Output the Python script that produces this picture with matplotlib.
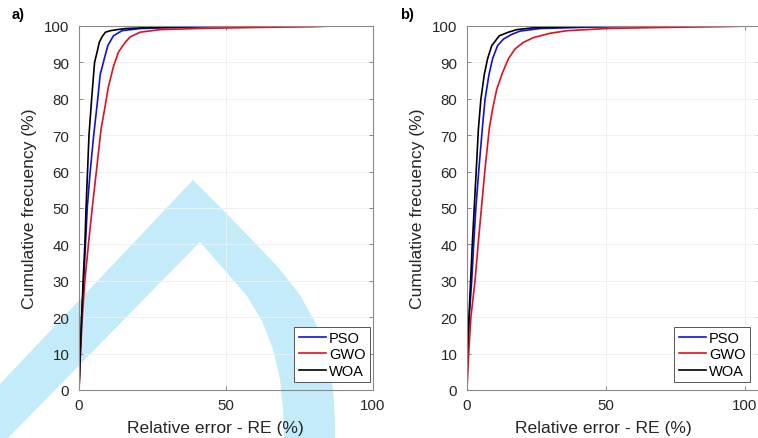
import matplotlib
matplotlib.use("Agg")
import matplotlib.pyplot as plt
from matplotlib.patches import Polygon

plt.rcParams["font.family"] = ["Liberation Sans", "DejaVu Sans"]

# a) cumulative frequency (%) vs relative error RE (%)
pso_a_re = [0, 0.4, 0.9, 1.6, 2.2, 2.8, 3.8, 5.0, 6.3, 7.2, 8.6, 9.8, 11.7, 14.6, 20.8, 35, 56]
pso_a_cf = [0, 10, 20, 30, 40, 50, 60, 70, 79.4, 86.6, 91, 94.6, 97.3, 98.7, 99.3, 99.6, 100]
gwo_a_re = [0, 0.5, 1.1, 2.0, 3.2, 4.5, 5.9, 7.5, 8.6, 10, 11.7, 13.4, 15.7, 17.4, 20.8, 27.6, 40, 60, 80, 86]
gwo_a_cf = [0, 10, 20, 30, 40, 50, 60, 71.7, 76.6, 83.3, 88.8, 92.8, 95.5, 97, 98.3, 99, 99.3, 99.6, 99.8, 100]
woa_a_re = [0, 0.4, 0.9, 1.4, 2.0, 2.4, 2.9, 3.4, 4.3, 4.9, 5.3, 6.2, 6.9, 7.8, 9.0, 10.6, 12.9, 16, 25, 35, 41]
woa_a_cf = [0, 10, 20, 30, 40, 50, 60, 70, 80, 86, 90, 93, 95.5, 97, 98.3, 98.7, 99, 99.3, 99.6, 99.8, 100]

# b)
pso_b_re = [0, 0.2, 0.8, 1.7, 2.4, 3.2, 4.2, 5.5, 6.5, 7.9, 9.2, 11, 13.1, 16.1, 19.1, 26.3, 45, 70]
pso_b_cf = [0, 10, 20, 30, 40, 50, 60, 71.7, 79.9, 86.6, 91, 94.6, 96.4, 97.7, 98.6, 99.3, 99.7, 100]
gwo_b_re = [0, 0.6, 1.4, 2.9, 4.0, 5.2, 6.4, 8.0, 9.2, 10.7, 12.8, 14.9, 17.3, 20.3, 23.9, 29.9, 35.9, 50, 70, 90, 103]
gwo_b_cf = [0, 10, 20, 30, 40, 50, 60, 71.7, 77.2, 82.6, 87.2, 91, 93.7, 95.5, 96.8, 98, 98.7, 99.3, 99.6, 99.8, 100]
woa_b_re = [0, 0.1, 0.7, 1.3, 1.9, 2.6, 3.3, 4.1, 5.0, 6.2, 7.4, 8.9, 11.6, 14.9, 17.9, 23.8, 40, 56]
woa_b_cf = [0, 10, 20, 30, 40, 50, 60, 71.7, 79.9, 86.6, 91, 94.6, 97.3, 98.3, 99, 99.5, 99.8, 100]

labels = ["PSO", "GWO", "WOA"]
colors = ["#1010e0", "#e0101c", "#000000"]

W, H = 758, 439
fig = plt.figure(figsize=(W / 100, H / 100), dpi=100)

# light blue watermark (figure pixels, y from top)
wm = [(0, 385), (193, 181), (223, 211), (253, 242), (278, 268), (300, 296), (316, 325),
      (327, 357), (333, 390), (335, 420), (335, 439),
      (284, 439), (283, 410), (280, 380), (273, 350), (262, 322), (247, 297), (228, 275),
      (200, 243), (8, 439), (0, 439)]
fig.patches.append(Polygon([(x / W, 1 - y / H) for x, y in wm], closed=True,
                           transform=fig.transFigure, facecolor="#c4ebfa",
                           edgecolor="none", zorder=-5))

ax_w = 294 / W
ax_b = 1 - 391 / H
ax_h = 364 / H
axes = [fig.add_axes([79 / W, ax_b, ax_w, ax_h]),
        fig.add_axes([467 / W, ax_b, ax_w, ax_h])]
xmax = [100, 105.8]
data = [
    [(pso_a_re, pso_a_cf), (gwo_a_re, gwo_a_cf), (woa_a_re, woa_a_cf)],
    [(pso_b_re, pso_b_cf), (gwo_b_re, gwo_b_cf), (woa_b_re, woa_b_cf)],
]

for ax, series, xm in zip(axes, data, xmax):
    ax.set_facecolor("none")
    for (re_, cf), lab, c in zip(series, labels, colors):
        ax.plot(re_, cf, color=c, lw=1.2, label=lab)
    ax.set_xlim(0, xm)
    ax.set_ylim(0, 100)
    ax.set_xticks([0, 50, 100])
    ax.set_yticks(range(0, 101, 10))
    ax.grid(True, color="#efefef", lw=0.7)
    ax.set_axisbelow(True)
    for s in ax.spines.values():
        s.set_color("#8a8a8a")
        s.set_linewidth(0.8)
    ax.tick_params(direction="in", length=3, width=0.7, color="#8a8a8a",
                   labelsize=10.8, labelcolor="#262626", top=True, right=True)
    ax.tick_params(axis="y", pad=7)
    ax.tick_params(axis="x", pad=6)
    ax.set_xlabel("Relative error - RE (%)", fontsize=12.6, color="#262626")
    ax.set_ylabel("Cumulative frecuency (%)", fontsize=12.6, color="#262626")
    ax.xaxis.set_label_coords(0.463, -0.082)
    ax.yaxis.set_label_coords(-0.143, 0.5)

leg_x = [0.99, 0.963]
for ax, lx in zip(axes, leg_x):
    leg = ax.legend(loc="lower right", bbox_to_anchor=(lx, 0.022), borderaxespad=0,
                    fontsize=10.5, fancybox=False, framealpha=1, edgecolor="#555555",
                    handlelength=1.9, handletextpad=0.2, labelspacing=0.15, borderpad=0.3)
    leg.get_frame().set_linewidth(0.7)

fig.text(12 / W, 1 - 15 / H, "a)", fontsize=10.5, fontweight="bold", va="center")
fig.text(400 / W, 1 - 15 / H, "b)", fontsize=10.5, fontweight="bold", va="center")

fig.savefig("out.png", dpi=100)
